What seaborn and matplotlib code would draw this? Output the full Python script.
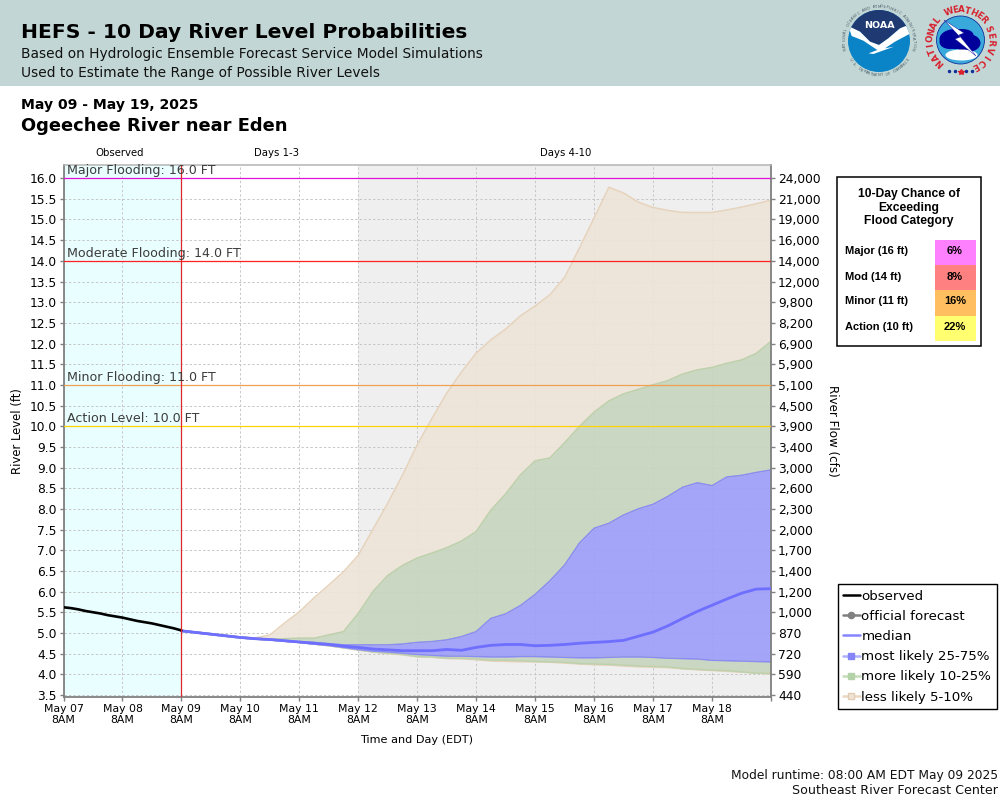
import numpy as np
import pandas as pd
import matplotlib
matplotlib.use("Agg")
import matplotlib.pyplot as plt
from matplotlib.lines import Line2D
from matplotlib.patches import Circle, Polygon, Rectangle, Ellipse
from matplotlib.ticker import FixedLocator, FixedFormatter
import seaborn as sns

# ---------- data ----------
observed = [5.62, 5.60, 5.57, 5.53, 5.50, 5.47, 5.43, 5.40, 5.37, 5.33, 5.29, 5.26, 5.23, 5.19, 5.15, 5.11, 5.06]
median = [5.05, 5.01, 4.97, 4.93, 4.89, 4.86, 4.84, 4.81, 4.78, 4.75, 4.72, 4.68, 4.65, 4.61, 4.59, 4.57, 4.57,
          4.57, 4.60, 4.58, 4.65, 4.70, 4.72, 4.72, 4.69, 4.70, 4.72, 4.75, 4.77, 4.79, 4.82, 4.92, 5.02, 5.17,
          5.35, 5.52, 5.67, 5.82, 5.96, 6.06, 6.07]
p75 = [5.06, 5.02, 4.98, 4.94, 4.90, 4.87, 4.85, 4.82, 4.79, 4.77, 4.74, 4.71, 4.71, 4.71, 4.71, 4.73, 4.77,
       4.79, 4.83, 4.91, 5.03, 5.35, 5.46, 5.66, 5.93, 6.26, 6.64, 7.17, 7.53, 7.65, 7.85, 8.00, 8.11, 8.30,
       8.52, 8.63, 8.56, 8.77, 8.81, 8.88, 8.94]
p25 = [5.04, 5.00, 4.96, 4.92, 4.88, 4.85, 4.83, 4.80, 4.77, 4.73, 4.70, 4.65, 4.60, 4.56, 4.54, 4.51, 4.48,
       4.46, 4.44, 4.44, 4.43, 4.42, 4.42, 4.43, 4.43, 4.42, 4.41, 4.40, 4.40, 4.41, 4.42, 4.42, 4.41, 4.39,
       4.38, 4.37, 4.34, 4.33, 4.32, 4.31, 4.30]
p90 = [5.06, 5.02, 4.98, 4.94, 4.90, 4.87, 4.85, 4.86, 4.87, 4.87, 4.95, 5.03, 5.47, 6.00, 6.39, 6.63, 6.81,
       6.93, 7.06, 7.22, 7.45, 7.97, 8.36, 8.82, 9.16, 9.23, 9.60, 9.99, 10.34, 10.61, 10.78, 10.89, 11.00,
       11.10, 11.26, 11.36, 11.42, 11.52, 11.60, 11.76, 12.05]
p10 = [5.04, 5.00, 4.96, 4.92, 4.88, 4.85, 4.83, 4.80, 4.77, 4.73, 4.69, 4.64, 4.59, 4.54, 4.51, 4.48, 4.43,
       4.42, 4.39, 4.39, 4.37, 4.34, 4.34, 4.33, 4.31, 4.30, 4.29, 4.26, 4.25, 4.24, 4.22, 4.20, 4.19, 4.18,
       4.14, 4.12, 4.10, 4.09, 4.06, 4.03, 4.02]
p95 = [5.06, 5.02, 4.98, 4.94, 4.90, 4.88, 4.95, 5.24, 5.51, 5.85, 6.16, 6.48, 6.88, 7.51, 8.14, 8.82, 9.55,
       10.19, 10.80, 11.31, 11.77, 12.09, 12.35, 12.67, 12.91, 13.18, 13.60, 14.31, 15.04, 15.78, 15.64, 15.42,
       15.29, 15.22, 15.17, 15.17, 15.17, 15.23, 15.30, 15.38, 15.47]
p05 = [5.04, 5.00, 4.96, 4.92, 4.88, 4.85, 4.83, 4.80, 4.77, 4.73, 4.69, 4.64, 4.59, 4.54, 4.50, 4.47, 4.42,
       4.41, 4.38, 4.37, 4.35, 4.32, 4.31, 4.30, 4.30, 4.29, 4.27, 4.25, 4.23, 4.22, 4.20, 4.18, 4.17, 4.16,
       4.13, 4.11, 4.09, 4.07, 4.05, 4.03, 4.00]
level_ticks = [3.5, 4.0, 4.5, 5.0, 5.5, 6.0, 6.5, 7.0, 7.5, 8.0, 8.5, 9.0, 9.5, 10.0, 10.5, 11.0, 11.5, 12.0,
               12.5, 13.0, 13.5, 14.0, 14.5, 15.0, 15.5, 16.0]
flow_labels = ["440", "590", "720", "870", "1,000", "1,200", "1,400", "1,700", "2,000", "2,300", "2,600", "3,000",
               "3,400", "3,900", "4,500", "5,100", "5,900", "6,900", "8,200", "9,800", "12,000", "14,000",
               "16,000", "19,000", "21,000", "24,000"]
flood_levels = [16.0, 14.0, 11.0, 10.0]
flood_names = ["Major Flooding: 16.0 FT", "Moderate Flooding: 14.0 FT", "Minor Flooding: 11.0 FT", "Action Level: 10.0 FT"]
flood_colors = ["#E010D8", "#FF2020", "#F0A050", "#FFD200"]
chance_labels = ["Major (16 ft)", "Mod (14 ft)", "Minor (11 ft)", "Action (10 ft)"]
chance_values = ["6%", "8%", "16%", "22%"]
chance_colors = ["#FF80FF", "#FF8080", "#FFBF60", "#FFFF70"]

t_obs = pd.date_range("2025-05-07 08:00", "2025-05-09 08:00", freq="3h")
t_fc = pd.date_range("2025-05-09 08:00", "2025-05-19 08:00", freq="6h")
day_ticks = pd.date_range("2025-05-07 08:00", "2025-05-19 08:00", freq="1D")
day_labels = [d.strftime("%b %d") + "\n8AM" for d in day_ticks[:-1]] + [""]

TAN, GREEN, BLUE = "#EDE4D8", "#C6D5BF", "#9C9CFB"
TAN_E, GREEN_E, BLUE_E = "#E6D3BC", "#BBD2AE", "#8C8CF6"

sns.set_theme(style="white", font="DejaVu Sans")
plt.rcParams["font.family"] = ["DejaVu Sans"]
fig = plt.figure(figsize=(10, 8), dpi=100, facecolor="white")

# pixel-coordinate overlay for the page furniture
ov = fig.add_axes([0, 0, 1, 1], zorder=0)
ov.set_xlim(0, 1000); ov.set_ylim(800, 0); ov.axis("off")
ov.add_patch(Rectangle((0, 0), 1000, 86, fc="#C2D7D5", ec="none"))
ov.text(21, 33, "HEFS - 10 Day River Level Probabilities", fontsize=14.6, fontweight="bold", va="center", color="black")
ov.text(21, 54, "Based on Hydrologic Ensemble Forecast Service Model Simulations", fontsize=9.9, va="center", color="#111111")
ov.text(21, 73, "Used to Estimate the Range of Possible River Levels", fontsize=9.9, va="center", color="#111111")
ov.text(21, 105, "May 09 - May 19, 2025", fontsize=10.1, fontweight="bold", va="center", color="black")
ov.text(21, 126, "Ogeechee River near Eden", fontsize=12.9, fontweight="bold", va="center", color="black")
ov.text(120, 153.5, "Observed", fontsize=7.3, ha="center", va="center", color="black")
ov.text(276.5, 153.5, "Days 1-3", fontsize=7.3, ha="center", va="center", color="black")
ov.text(566, 153.5, "Days 4-10", fontsize=7.3, ha="center", va="center", color="black")
ov.text(417, 740, "Time and Day (EDT)", fontsize=8.1, ha="center", va="center", color="black")
ov.text(18, 431, "River Level (ft)", fontsize=8.4, rotation=90, ha="center", va="center", color="black")
ov.text(832, 431, "River Flow (cfs)", fontsize=8.6, rotation=270, ha="center", va="center", color="black")
ov.text(998, 775, "Model runtime: 08:00 AM EDT May 09 2025", fontsize=8.85, ha="right", va="center", color="#111111")
ov.text(998, 791, "Southeast River Forecast Center", fontsize=9.05, ha="right", va="center", color="#111111")

# NOAA logo
def zp(pts):
    return [(820 + a / 3, b / 3) for a, b in pts]
ncx, ncy = 879, 41
disc = Circle((ncx, ncy), 31, fc="#0A84C6", ec="none"); ov.add_patch(disc)
navy = Polygon(zp([(70, 80), (85, 80), (120, 95), (150, 125), (177, 135), (205, 115), (240, 85), (285, 72), (285, 30), (70, 30)]), fc="#1F3A73", ec="none")
ov.add_patch(navy); navy.set_clip_path(disc)
wing = Polygon(zp([(85, 78), (120, 95), (150, 125), (177, 135), (205, 115), (240, 85), (272, 72), (268, 102), (225, 125), (195, 145),
                   (222, 140), (160, 162), (146, 160), (172, 150), (130, 122), (95, 108)]), fc="white", ec="none")
ov.add_patch(wing); wing.set_clip_path(disc)
ov.text(ncx, 25, "NOAA", fontsize=6.8, fontweight="bold", color="white", ha="center", va="center")
def ring(txt, cx, cy, r, a0, a1, size, color, weight="normal", bottom=False):
    for ch, a in zip(txt, np.linspace(a0, a1, len(txt))):
        th = np.radians(a)
        rot = (180 - a) if bottom else -a
        ov.text(cx + r * np.sin(th), cy - r * np.cos(th), ch, fontsize=size, color=color, fontweight=weight,
                rotation=rot, ha="center", va="center", rotation_mode="anchor")
ring("NATIONAL OCEANIC AND ATMOSPHERIC ADMINISTRATION", ncx, ncy, 34.5, -103, 103, 2.7, "#4A5A66")
ring("U.S. DEPARTMENT OF COMMERCE", ncx, ncy, 34.5, 237, 123, 2.7, "#4A5A66", bottom=True)

# NWS logo
wcx, wcy = 960.5, 40
d2 = Circle((wcx, wcy), 24, fc="#39A9DC", ec="#12309A", lw=0.6); ov.add_patch(d2)
for (dx, dy, w, h) in [(-5, -1, 32, 20), (7, 3, 26, 18), (-11, 2, 20, 14), (2, -5, 22, 12)]:
    e = Ellipse((wcx + dx, wcy + dy), w, h, fc="#00009A", ec="none"); ov.add_patch(e); e.set_clip_path(d2)
low = Ellipse((wcx + 1, wcy + 15), 32, 11, fc="white", ec="none"); ov.add_patch(low); low.set_clip_path(d2)
ov.add_patch(Polygon([(944, 20), (964, 33), (959, 35), (976, 56), (955, 39), (960, 37)], fc="white", ec="#00009A", lw=0.3))
ring("NATIONAL", wcx, wcy, 30, -137, -50, 6.2, "#D81E2C", "bold")
ring("WEATHER", wcx, wcy, 30, -22, 49, 6.2, "#D81E2C", "bold")
ring("SERVICE", wcx, wcy, 30, 68, 150, 6.2, "#D81E2C", "bold")
ov.plot([949, 955, 966, 972], [71, 71, 71, 71], ls="none", marker="o", ms=1.5, color="#12309A")
ov.plot([960.5], [72], ls="none", marker="*", ms=4, color="#D81E2C")

# flood-category panel
ov.add_patch(Rectangle((836.7, 176.7), 144, 169, fc="white", ec="black", lw=1.1))
ov.text(909, 207.7, "10-Day Chance of\nExceeding\nFlood Category", fontsize=8.7, fontweight="bold", family="Liberation Sans",
        ha="center", va="center", linespacing=1.17, color="black")
for k, (lab, val, col) in enumerate(zip(chance_labels, chance_values, chance_colors)):
    ov.add_patch(Rectangle((935, 240 + 25.2 * k), 41, 25.2, fc=col, ec="none"))
    ov.text(845, 251.5 + 25 * k, lab, fontsize=8.0, fontweight="bold", family="Liberation Sans", va="center", color="black")
    ov.text(955, 251.5 + 25 * k, val, fontsize=8.0, fontweight="bold", family="Liberation Sans", ha="center", va="center", color="black")

# main chart
ax = fig.add_axes([63.5 / 1000, 1 - 697 / 800, (771 - 63.5) / 1000, (697 - 164.5) / 800], zorder=2)
ax.set_facecolor("white")
ax.axvspan(t_obs[0], t_obs[-1], color="#E9FEFE", lw=0, zorder=0)
ax.axvspan(pd.Timestamp("2025-05-12 08:00"), t_fc[-1], color="#EFEFEF", lw=0, zorder=0)
ax.tick_params(axis="y", labelsize=8.8, length=3, width=1, color="#808080", pad=2, labelcolor="black", left=True)
ax.tick_params(axis="x", length=3, width=1, color="#808080", pad=2, bottom=True)
ax.grid(True, color="#C6C6C6", ls=(0, (2.4, 2.2)), lw=0.7, zorder=1)
ax.set_axisbelow(True)

def band(lo, hi, fc, ec):
    ax.fill_between(t_fc, lo, hi, color=fc, alpha=0.9, lw=0, zorder=2)
    ax.plot(t_fc, hi, color=ec, lw=1.1, zorder=2.1)
    ax.plot(t_fc, lo, color=ec, lw=1.1, zorder=2.1)
band(p90, p95, TAN, TAN_E)
band(p05, p10, TAN, TAN_E)
band(p75, p90, GREEN, GREEN_E)
band(p10, p25, GREEN, GREEN_E)
band(p25, p75, BLUE, BLUE_E)

for lev, name, col in zip(flood_levels, flood_names, flood_colors):
    ax.axhline(lev, color=col, lw=0.9, zorder=3)
    ax.text(t_obs[0] + pd.Timedelta(hours=1.4), lev + 0.03, name, fontsize=9.05, color="#3C3C3C", va="bottom", zorder=6)
ax.axvline(t_obs[-1], color="#E02828", lw=0.9, zorder=5)

sns.lineplot(x=t_fc, y=median, ax=ax, color="#6E6EFF", lw=2.0, zorder=4, legend=False)
sns.lineplot(x=t_obs, y=observed, ax=ax, color="black", lw=1.9, zorder=4, legend=False)
ax.set_xlabel(""); ax.set_ylabel("")
ax.set_xlim(t_obs[0], t_fc[-1]); ax.set_ylim(3.45, 16.33)
ax.set_yticks(level_ticks)
ax.set_xticks(day_ticks); ax.set_xticklabels(day_labels, fontsize=7.8, color="black", linespacing=1.1)

for s in ["left", "bottom", "right"]:
    ax.spines[s].set_color("#808080"); ax.spines[s].set_linewidth(1.3)
ax.spines["top"].set_color("#B4B4B4"); ax.spines["top"].set_linewidth(1.1)

ax2 = ax.twinx()
ax2.set_ylim(ax.get_ylim())
ax2.yaxis.set_major_locator(FixedLocator(level_ticks))
ax2.yaxis.set_major_formatter(FixedFormatter(flow_labels))
ax2.tick_params(axis="y", labelsize=8.8, length=3, width=1, color="#808080", pad=2, labelcolor="black", right=True)
ax2.grid(False)
for s in ax2.spines.values():
    s.set_visible(False)

handles = [
    Line2D([], [], color="black", lw=1.8),
    Line2D([], [], color="#808080", lw=1.8, marker="o", ms=4.5),
    Line2D([], [], color="#8585FF", lw=1.8),
    Line2D([], [], color="#B0B0FF", lw=1.8, marker="s", ms=4.5, mfc="#8585F8", mec="#8585F8"),
    Line2D([], [], color="#C4DDB8", lw=1.8, marker="s", ms=4.5, mfc="#B4D2A8", mec="#B4D2A8"),
    Line2D([], [], color="#EBD8C2", lw=1.8, marker="s", ms=4.5, mfc="#EFE4D6", mec="#E2CDB4"),
]
labels = ["observed", "official forecast", "median", "most likely 25-75%", "more likely 10-25%", "less likely 5-10%"]
leg = ax2.legend(handles, labels, loc="upper left", bbox_to_anchor=(837.5 / 1000, 1 - 584 / 800), bbox_transform=fig.transFigure,
                borderaxespad=0, fontsize=9.6, frameon=True, fancybox=False, framealpha=1, edgecolor="black",
                handlelength=1.25, handletextpad=0.12, labelspacing=0.54, borderpad=0.42, labelcolor="black")
leg.get_frame().set_linewidth(1.0)

fig.savefig("out.png", dpi=100)
